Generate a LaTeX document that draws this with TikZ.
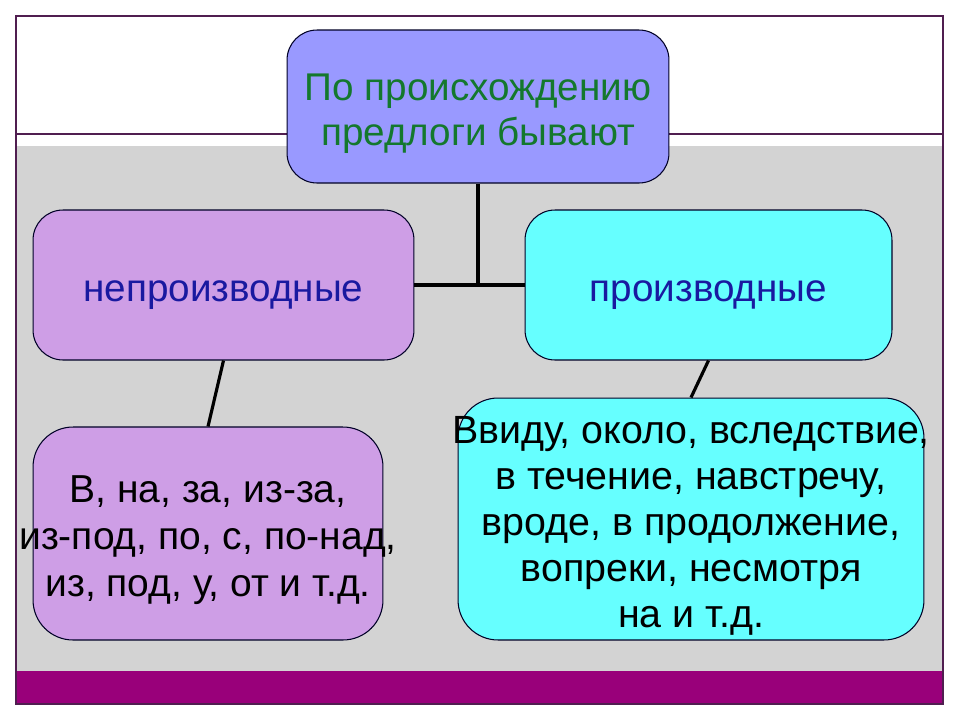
\documentclass[tikz,border=0pt]{standalone}
\usepackage{fontspec}
\setmainfont{Liberation Sans}
\usetikzlibrary{positioning}
\definecolor{framepurple}{RGB}{80,30,80}
\definecolor{panelgray}{RGB}{211,211,211}
\definecolor{barmagenta}{RGB}{153,0,122}
\definecolor{topblue}{RGB}{153,153,255}
\definecolor{lilac}{RGB}{206,158,230}
\definecolor{aqua}{RGB}{102,255,255}
\definecolor{leafgreen}{RGB}{20,120,45}
\definecolor{inkblue}{RGB}{25,25,160}
\newcommand{\toplift}{\rule{0pt}{23pt}}
\tikzset{
  box/.style={draw=black!85!blue, line width=0.6pt, inner sep=0pt, align=center},
  link/.style={line width=1.8pt},
}
\begin{document}
\begin{tikzpicture}[x=0.02cm,y=-0.02cm]
        % Page and background
        \useasboundingbox (0,0) rectangle (960,720);
        \fill[white] (0,0) rectangle (960,720);
        \fill[panelgray] (16,146) rectangle (943,671);
        \fill[barmagenta] (16,671) rectangle (943,703);
        \draw[framepurple, line width=0.6pt] (16,16) rectangle (943,704);
        \draw[framepurple, line width=0.6pt] (16,134) -- (943,134);
        % Boxes
        \node[box, fill=topblue, rounded corners=0.6cm, minimum width=7.64cm, minimum height=3.06cm,
              text=leafgreen, font=\fontsize{22}{25.6}\selectfont] (origin) at (478,106.5)
              {\toplift По происхождению\\предлоги бывают};
        \node[box, fill=lilac, rounded corners=0.6cm, minimum width=7.62cm, minimum height=3cm,
              text=inkblue, font=\fontsize{22}{26}\selectfont] (primary) at (223.5,285) {\toplift непроизводные};
        \node[box, fill=aqua, rounded corners=0.6cm, minimum width=7.34cm, minimum height=3cm,
              text=inkblue, font=\fontsize{22}{26}\selectfont] (derived) at (708.5,285) {\toplift производные};
        \node[box, fill=lilac, rounded corners=0.8cm, minimum width=7cm, minimum height=4.26cm,
              inner xsep=-1cm, font=\fontsize{22.2}{26.7}\selectfont] (primlist) at (208,533.5)
              {\toplift В, на, за, из-за,\\из-под, по, с, по-над,\\из, под, у, от и т.д.};
        \node[box, fill=aqua, rounded corners=0.8cm, minimum width=9.32cm, minimum height=4.84cm,
              inner xsep=-1cm, font=\fontsize{22.4}{26.2}\selectfont] (derlist) at (691,519)
              {\toplift Ввиду, около, вследствие,\\в течение, навстречу,\\вроде, в продолжение,\\вопреки, несмотря\\на и т.д.};
        % Connectors
        \coordinate (fork) at (478,285);
        \draw[link] (origin.south) -- (fork);
        \draw[link] (primary.east) -- (derived.west);
        \draw[link] (primary.south) -- (primlist.north);
        \draw[link] (derived.south) -- (derlist.north);
    \end{tikzpicture}
\end{document}
